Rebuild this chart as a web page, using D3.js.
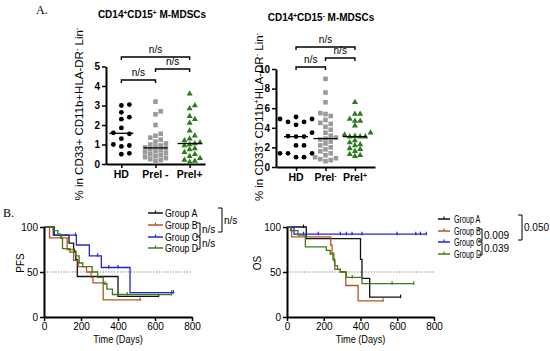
<!DOCTYPE html>
<meta charset='utf-8'>
<style>
body { margin: 0; background: #fff; }
svg { font-family: 'Liberation Sans', Arial, sans-serif; }
.axis path, .axis line { stroke: #000; }
</style>
<svg width='550' height='351'></svg>
<script src='https://d3js.org/d3.v7.min.js'></script>
<script>

// ---- panel A data ----
var catsLeft = ['HD', 'Prel -', 'Prel+'];
var catsRight = ['HD', 'Prel^-', 'Prel^+'];

var hdLeft = [3.05, 3.0, 2.65, 2.4, 2.3, 1.85, 1.6, 1.55, 1.3, 1.0, 0.95, 0.9, 0.55, 0.5];
var prelNegLeft = [3.2, 2.7, 2.55, 2.0, 1.55, 1.45, 1.35, 1.25, 1.15, 1.05, 1.0, 0.95, 0.9, 0.85,
                   0.8, 0.75, 0.7, 0.65, 0.6, 0.55, 0.5, 0.45, 0.4, 0.35, 0.3, 0.25, 0.2, 0.15];
var prelPosLeft = [3.6, 3.0, 2.85, 2.45, 2.3, 2.1, 1.7, 1.45, 1.3, 1.2, 1.1, 1.05, 1.0, 0.95,
                   0.8, 0.75, 0.6, 0.5, 0.4, 0.3, 0.2, 0.15, 0.1];

var hdRight = [5.1, 4.9, 4.9, 4.6, 4.6, 4.3, 3.5, 3.15, 3.1, 3.1, 2.2, 2.2, 1.4, 1.4, 1.4, 1.0, 1.0];
var prelNegRight = [9.0, 7.6, 6.6, 5.5, 5.4, 5.2, 4.8, 4.5, 4.4, 4.1, 3.8, 3.5, 3.2, 3.0, 2.9,
                    2.8, 2.6, 2.4, 2.2, 2.0, 1.8, 1.6, 1.4, 1.2, 1.0, 0.9, 0.8, 0.7, 0.6];
var prelPosRight = [6.6, 5.4, 5.4, 4.9, 4.7, 4.7, 4.2, 3.5, 3.3, 3.15, 3.1, 3.1, 3.1, 2.7, 2.5,
                    2.3, 2.2, 1.9, 1.8, 1.6, 1.3, 1.2, 1.1];

// ---- panel B data: [day, survival %], last entry = end of follow-up ----
var groups = ['Group A', 'Group B', 'Group C', 'Group D'];
var groupColors = ['#111111', '#b4561f', '#2323d8', '#3f7a1c'];

var pfsA = [[0,100],[55,91],[135,82],[160,73],[172,64],[180,45],[400,23],[620,23]];
var pfsB = [[0,100],[30,88],[125,75],[160,63],[185,56],[230,50],[255,44],[265,38],[320,19],[520,19]];
var pfsC = [[0,100],[50,91],[175,80],[245,68],[310,55],[465,27],[700,27]];
var pfsD = [[0,100],[50,96],[75,92],[90,88],[100,76],[140,72],[170,68],[190,60],[210,56],
            [260,50],[290,44],[320,37],[340,31],[370,25],[690,25]];
var pfsCensor = [[165, 620], [520], [170, 290, 350, 400, 690, 700], [95, 330, 450, 690]];

var osA = [[0,100],[105,87],[400,64],[408,43],[450,22],[618,22]];
var osB = [[0,100],[25,89],[238,80],[245,71],[255,62],[260,53],[290,50],[320,35],[387,18],[523,18]];
var osC = [[0,100],[38,92],[758,92]];
var osD = [[0,100],[20,96],[60,91],[100,78],[214,74],[235,70],[250,64],[260,57],[275,53],
           [290,50],[323,44],[408,37],[690,37]];
var osCensor = [[90, 618], [523], [90, 170, 290, 323, 354, 408, 599, 701, 726, 758], [355, 572, 690]];

var timeTicks = [0, 200, 400, 600, 800];
var survTicks = [0, 50, 100];

var svg = d3.select('svg');

// text with ^x superscript markers
function richText(sel, str, size) {
  var parts = str.split(/(\^.)/).filter(function(p) { return p.length; });
  parts.forEach(function(p) {
    if (p[0] === '^') {
      sel.append('tspan').attr('baseline-shift', 'super').attr('font-size', size * 0.65).text(p[1]);
    } else {
      sel.append('tspan').text(p);
    }
  });
  return sel;
}

// simple beeswarm: each point takes the nearest free horizontal slot
function swarm(values, cx, y, step) {
  var placed = [];
  values.slice().sort(d3.ascending).forEach(function(v) {
    var py = y(v);
    for (var k = 0; k < 20; k++) {
      var off = (k % 2 ? 1 : -1) * Math.ceil(k / 2) * step;
      var px = cx + off;
      var hit = placed.some(function(p) { return Math.abs(p.x - px) < step * 0.9 && Math.abs(p.y - py) < step * 0.8; });
      if (!hit) { placed.push({x: px, y: py, v: v}); break; }
    }
  });
  return placed;
}

function scatterPanel(o) {
  var g = svg.append('g');
  var y = d3.scaleLinear().domain([0, o.ymax]).range([o.y0, o.y1]);
  var x = d3.scalePoint().domain(o.cats).range([o.x0, o.x1]).padding(o.pad);

  g.append('g').attr('class', 'axis').attr('transform', 'translate(' + o.x0 + ',0)')
    .call(d3.axisLeft(y).ticks(o.ymax / o.ystep).tickSize(4).tickSizeOuter(0).tickPadding(2))
    .call(function(a) {
      a.selectAll('path').attr('stroke-width', 2);
      a.selectAll('line').attr('stroke-width', 1.5);
      a.selectAll('text').attr('font-size', 10).attr('font-weight', 'bold')
        .attr('font-family', "'Liberation Sans', Arial, sans-serif");
    });

  g.append('g').attr('class', 'axis').attr('transform', 'translate(0,' + o.y0 + ')')
    .call(d3.axisBottom(x).tickSize(4).tickSizeOuter(0).tickFormat(''))
    .call(function(a) {
      a.selectAll('path').attr('stroke-width', 2);
      a.selectAll('line').attr('stroke-width', 1.5);
    });

  o.cats.forEach(function(c) {
    richText(g.append('text').attr('x', x(c)).attr('y', o.y0 + 14)
      .attr('text-anchor', 'middle').attr('font-size', 10.5).attr('font-weight', 'bold'), c, 10.5);
  });

  // points + median
  o.series.forEach(function(vals, i) {
    var cx = x(o.cats[i]);
    var pts = swarm(vals, cx, y, o.steps[i]);
    var sym = g.append('g');
    if (i === 0) {
      sym.selectAll('circle').data(pts).enter().append('circle')
        .attr('cx', function(d) { return d.x; }).attr('cy', function(d) { return d.y; })
        .attr('r', 2.4).attr('fill', '#000');
    } else if (i === 1) {
      sym.selectAll('rect').data(pts).enter().append('rect')
        .attr('x', function(d) { return d.x - 2.3; }).attr('y', function(d) { return d.y - 2.3; })
        .attr('width', 4.6).attr('height', 4.6).attr('fill', '#9a9a9a');
    } else {
      sym.selectAll('path').data(pts).enter().append('path')
        .attr('d', d3.symbol().type(d3.symbolTriangle).size(16))
        .attr('transform', function(d) { return 'translate(' + d.x + ',' + d.y + ')'; })
        .attr('fill', '#2f7a1e');
    }
    var med = d3.median(vals);
    g.append('line').attr('x1', cx - 12).attr('x2', cx + 12)
      .attr('y1', y(med)).attr('y2', y(med)).attr('stroke', '#000').attr('stroke-width', 1.3);
  });

  // significance brackets
  o.brackets.forEach(function(b) {
    var xa = x(o.cats[b[0]]), xb = x(o.cats[b[1]]);
    g.append('path').attr('d', 'M' + xa + ',' + (b[2] + 3) + 'V' + b[2] + 'H' + xb + 'V' + (b[2] + 3))
      .attr('fill', 'none').attr('stroke', '#000').attr('stroke-width', 1.4);
    g.append('text').attr('x', (xa + xb) / 2).attr('y', b[2] - 4).attr('text-anchor', 'middle')
      .attr('font-size', 10).text('n/s');
  });

  // title and y label
  richText(g.append('text').attr('x', o.titleX).attr('y', o.titleY).attr('text-anchor', 'middle')
    .attr('font-size', 10).attr('font-weight', 'bold'), o.title, 10);
  richText(g.append('text').attr('transform', 'translate(' + o.labX + ',' + o.labY + ') rotate(-90)')
    .attr('text-anchor', 'middle').attr('font-size', 11.5), o.ylabel, 11.5);
}

scatterPanel({
  cats: catsLeft, series: [hdLeft, prelNegLeft, prelPosLeft], steps: [8, 5.2, 5.2],
  ymax: 5, ystep: 1, y0: 164, y1: 66.5, x0: 106, x1: 205, pad: 0.45,
  brackets: [[0, 2, 57], [0, 1, 80], [1, 2, 69]],
  title: 'CD14^+CD15^+ M-MDSCs', titleX: 152, titleY: 18,
  ylabel: '% in CD33+ CD11b+HLA-DR^- Lin^-', labX: 83, labY: 114
});

scatterPanel({
  cats: catsRight, series: [hdRight, prelNegRight, prelPosRight], steps: [8, 5.2, 5.2],
  ymax: 10, ystep: 2, y0: 167, y1: 69, x0: 276, x1: 375, pad: 0.68,
  brackets: [[0, 2, 47], [0, 1, 67], [1, 2, 58]],
  title: 'CD14^+CD15^- M-MDSCs', titleX: 321, titleY: 21,
  ylabel: '% in CD33^+ CD11b^+HLA-DR^- Lin^-', labX: 263, labY: 117
});

svg.append('text').attr('x', 36).attr('y', 14).attr('font-family', "'Liberation Serif', serif")
  .attr('font-size', 12).text('A.');
svg.append('text').attr('x', 3).attr('y', 217).attr('font-family', "'Liberation Serif', serif")
  .attr('font-size', 12).text('B.');

// ---- Kaplan-Meier panels ----
function survAt(steps, t) {
  var s = steps[0][1];
  steps.forEach(function(p) { if (p[0] <= t) s = p[1]; });
  return s;
}

function kmPanel(o) {
  var g = svg.append('g');
  var x = d3.scaleLinear().domain([0, 800]).range([o.x0, o.x1]);
  var y = d3.scaleLinear().domain([0, 100]).range([317, 227]);

  g.append('line').attr('x1', x(0)).attr('x2', x(800)).attr('y1', y(50)).attr('y2', y(50))
    .attr('stroke', '#555').attr('stroke-width', 0.8).attr('stroke-dasharray', '1.2,1.6');

  var line = d3.line().x(function(d) { return x(d[0]); }).y(function(d) { return y(d[1]); })
    .curve(d3.curveStepAfter);

  o.curves.forEach(function(c, i) {
    g.append('path').attr('d', line(c)).attr('fill', 'none')
      .attr('stroke', groupColors[i]).attr('stroke-width', 1.3);
    g.selectAll(null).data(o.censor[i]).enter().append('line')
      .attr('x1', function(t) { return x(t); }).attr('x2', function(t) { return x(t); })
      .attr('y1', function(t) { return y(survAt(c, t)) - 2.5; })
      .attr('y2', function(t) { return y(survAt(c, t)) + 1; })
      .attr('stroke', groupColors[i]).attr('stroke-width', 1.2);
  });

  g.append('g').attr('class', 'axis').attr('transform', 'translate(0,317)')
    .call(d3.axisBottom(x).tickValues(timeTicks).tickSize(4).tickSizeOuter(0).tickPadding(2))
    .call(function(a) {
      a.selectAll('path').attr('stroke-width', 2);
      a.selectAll('line').attr('stroke-width', 1.5);
      a.selectAll('text').attr('font-size', 10).attr('font-family', "'Liberation Sans', Arial, sans-serif");
    });
  g.append('g').attr('class', 'axis').attr('transform', 'translate(' + o.x0 + ',0)')
    .call(d3.axisLeft(y).tickValues(survTicks).tickSize(4).tickSizeOuter(0).tickPadding(2))
    .call(function(a) {
      a.selectAll('path').attr('stroke-width', 2);
      a.selectAll('line').attr('stroke-width', 1.5);
      a.selectAll('text').attr('font-size', 10).attr('font-family', "'Liberation Sans', Arial, sans-serif");
    });

  g.append('text').attr('transform', 'translate(' + ((o.x0 + o.x1) / 2) + ',343) scale(0.92,1)')
    .attr('text-anchor', 'middle').attr('font-size', 10).text('Time (Days)');
  g.append('text').attr('transform', 'translate(' + o.labX + ',' + 263 + ') rotate(-90)')
    .attr('text-anchor', 'middle').attr('font-size', 10).text(o.ylabel);

  // legend
  var rows = o.rows;
  groups.forEach(function(name, i) {
    g.append('line').attr('x1', o.lx).attr('x2', o.lx + o.lw).attr('y1', rows[i]).attr('y2', rows[i])
      .attr('stroke', groupColors[i]).attr('stroke-width', 1.5);
    g.append('line').attr('x1', o.lx + o.lw / 2).attr('x2', o.lx + o.lw / 2).attr('y1', rows[i] - 2.5).attr('y2', rows[i])
      .attr('stroke', groupColors[i]).attr('stroke-width', 1.2);
    g.append('text').attr('transform', 'translate(' + o.tx + ',' + (rows[i] + 3.5) + ') scale(' + o.sx + ',1)')
      .attr('font-size', 10).text(name);
  });
  o.pvals.forEach(function(p) {
    var ya = rows[p[0]] + p[4], yb = rows[p[1]] + p[5];
    g.append('path').attr('d', 'M' + (p[2] - 4) + ',' + ya + 'H' + p[2] + 'V' + yb + 'H' + (p[2] - 4))
      .attr('fill', 'none').attr('stroke', '#000').attr('stroke-width', 1);
    g.append('text').attr('x', p[2] + 2).attr('y', (ya + yb) / 2 + 3.5).attr('font-size', 10).text(p[3]);
  });
}

kmPanel({
  x0: 44, x1: 192, curves: [pfsA, pfsB, pfsC, pfsD], censor: pfsCensor, ylabel: 'PFS', labX: 24,
  lx: 148, lw: 15, tx: 165, sx: 0.88, rows: [213, 225, 237, 248],
  pvals: [[1, 2, 200, 'n/s', -2, -1], [2, 3, 200, 'n/s', 0, 1], [0, 2, 222, 'n/s', -5, -5]]
});

kmPanel({
  x0: 287, x1: 434, curves: [osA, osB, osC, osD], censor: osCensor, ylabel: 'OS', labX: 261,
  lx: 438, lw: 12, tx: 454, sx: 0.72, rows: [219, 231, 242, 254],
  pvals: [[1, 2, 482, '0.009', -2, -1], [2, 3, 482, '0.039', 0, 1], [0, 2, 522, '0.050', -4, -2]]
});

</script>
